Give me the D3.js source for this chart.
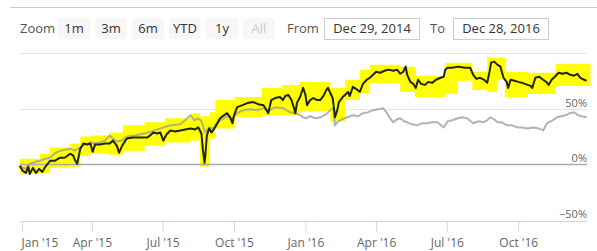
<!DOCTYPE html>
<html><head><meta charset="utf-8">
<script src="https://cdn.jsdelivr.net/npm/d3@7"></script>
<style>html,body{margin:0;padding:0;background:#fff;} svg{display:block;font-family:"Open Sans",sans-serif;}</style>
</head><body>
<svg id="c" width="597" height="251"></svg>
<script>
// ---------- data ----------
const zoomButtons = ["1m", "3m", "6m", "YTD", "1y", "All"];
const disabledButton = "All";
const rangeFrom = "Dec 29, 2014";
const rangeTo = "Dec 28, 2016";
const yTickValues = [-50, 0, 50, 100];
const yTickLabels = ["−50%", "0%", "50%", ""];
const xTickDates = ["2015-01-01", "2015-04-01", "2015-07-01", "2015-10-01", "2016-01-01", "2016-04-01", "2016-07-01", "2016-10-01"];
const xTickLabels = ["Jan '15", "Apr '15", "Jul '15", "Oct '15", "Jan '16", "Apr '16", "Jul '16", "Oct '16"];

// main series (percent change)
const mainSeries = [
["2014-12-29",-0.9],["2015-01-02",-5.5],["2015-01-06",-7.3],["2015-01-09",-1.8],["2015-01-11",-8.2],
["2015-01-15",-2.7],["2015-01-19",-7.3],["2015-01-23",-3.6],["2015-01-27",-6.4],["2015-01-31",-1.8],
["2015-02-03",0.9],["2015-02-06",3.6],["2015-02-12",3.6],["2015-02-19",6.4],["2015-02-25",6.4],
["2015-03-04",10],["2015-03-08",8.2],["2015-03-10",4.5],["2015-03-13",0.9],["2015-03-17",14.5],
["2015-03-21",19.1],["2015-03-26",18.2],["2015-03-30",19.1],["2015-04-02",11.8],["2015-04-05",18.2],
["2015-04-11",18.2],["2015-04-18",19.1],["2015-04-24",19.1],["2015-04-28",21.8],["2015-05-03",17.3],
["2015-05-06",10.9],["2015-05-10",17.3],["2015-05-16",23.6],["2015-05-24",24.5],["2015-06-02",24.5],
["2015-06-11",24.5],["2015-06-15",26.4],["2015-06-19",29.1],["2015-06-24",28.2],["2015-06-28",29.1],
["2015-07-02",21.8],["2015-07-06",27.3],["2015-07-11",30.9],["2015-07-17",30],["2015-07-24",30.9],
["2015-07-30",31.8],["2015-08-06",32.7],["2015-08-12",31.8],["2015-08-16",33.6],["2015-08-20",28.2],
["2015-08-22",12.7],["2015-08-24",1.8],["2015-08-25",8.2],["2015-08-27",26.4],["2015-08-30",32.7],
["2015-09-02",29.1],["2015-09-04",30.9],["2015-09-09",36.4],["2015-09-13",41.8],["2015-09-18",44.5],
["2015-09-22",46.4],["2015-09-26",42.7],["2015-09-29",37.3],["2015-10-01",44.5],["2015-10-05",51.8],
["2015-10-12",53.6],["2015-10-18",55.5],["2015-10-26",56.4],["2015-11-01",54.5],["2015-11-08",53.6],
["2015-11-12",49.1],["2015-11-14",46.4],["2015-11-18",58.2],["2015-11-23",60],["2015-11-29",60.9],
["2015-12-03",58.2],["2015-12-06",61.8],["2015-12-10",62.7],["2015-12-14",58.2],["2015-12-18",49.1],
["2015-12-19",46.4],["2015-12-21",55.5],["2015-12-25",60.9],["2015-12-29",69.1],["2016-01-01",62.7],
["2016-01-03",53.6],["2016-01-07",58.2],["2016-01-11",60],["2016-01-16",58.2],["2016-01-20",58.2],
["2016-01-24",61.8],["2016-01-28",67.3],["2016-01-30",69.1],["2016-02-02",64.5],["2016-02-05",60],
["2016-02-07",49.1],["2016-02-08",42.7],["2016-02-11",49.1],["2016-02-13",56.4],["2016-02-18",60.9],
["2016-02-25",65.5],["2016-02-27",61.8],["2016-03-02",70],["2016-03-08",67.3],["2016-03-11",65.5],
["2016-03-15",72.7],["2016-03-20",76.4],["2016-03-24",78.2],["2016-03-28",80.9],["2016-04-01",83.6],
["2016-04-06",82.7],["2016-04-12",84.5],["2016-04-17",85.5],["2016-04-23",84.5],["2016-04-28",85.5],
["2016-05-02",81.8],["2016-05-06",83.6],["2016-05-09",88.2],["2016-05-11",80.9],["2016-05-15",74.5],
["2016-05-19",72.7],["2016-05-22",69.1],["2016-05-25",76.4],["2016-05-29",72.7],["2016-06-03",71.8],
["2016-06-07",74.5],["2016-06-12",73.6],["2016-06-17",76.4],["2016-06-23",78.2],["2016-06-27",79.1],
["2016-06-29",85.5],["2016-07-02",87.3],["2016-07-08",87.3],["2016-07-16",88.2],["2016-07-24",87.3],
["2016-07-31",87.3],["2016-08-04",80.9],["2016-08-08",77.3],["2016-08-13",78.2],["2016-08-18",76.4],
["2016-08-22",73.6],["2016-08-25",83.6],["2016-08-27",91.8],["2016-08-31",92.7],["2016-09-04",90],
["2016-09-08",88.2],["2016-09-12",78.2],["2016-09-16",74.5],["2016-09-18",69.1],["2016-09-21",76.4],
["2016-09-26",75.5],["2016-10-01",74.5],["2016-10-06",73.6],["2016-10-13",71.8],["2016-10-17",70.9],
["2016-10-19",69.1],["2016-10-23",78.2],["2016-10-28",79.1],["2016-11-02",76.4],["2016-11-06",74.5],
["2016-11-09",71.8],["2016-11-13",76.4],["2016-11-17",79.1],["2016-11-22",82.7],["2016-11-27",81.8],
["2016-12-02",82.7],["2016-12-07",80.9],["2016-12-12",80],["2016-12-16",81.8],["2016-12-20",78.2],
["2016-12-25",76.4],["2016-12-28",75.5]
];

// comparison series (percent change)
const compareSeries = [
["2014-12-29",-0.9],["2015-01-05",-3.6],["2015-01-11",0.9],["2015-01-18",2.7],["2015-01-24",3.6],
["2015-01-31",5.5],["2015-02-06",6.4],["2015-02-12",10],["2015-02-19",12.7],["2015-02-25",13.6],
["2015-03-04",14.5],["2015-03-10",12.7],["2015-03-17",15.5],["2015-03-23",18.2],["2015-03-30",20],
["2015-04-05",19.1],["2015-04-11",20],["2015-04-18",21.8],["2015-04-24",26.4],["2015-04-28",23.6],
["2015-05-03",20.9],["2015-05-10",21.8],["2015-05-16",25.5],["2015-05-26",26.4],["2015-06-08",28.2],
["2015-06-21",30.9],["2015-07-02",33.6],["2015-07-11",35.5],["2015-07-24",36.4],["2015-07-30",40],
["2015-08-06",44.5],["2015-08-11",40],["2015-08-16",41.8],["2015-08-20",39.1],["2015-08-25",29.1],
["2015-08-30",33.6],["2015-09-04",32.7],["2015-09-09",38.2],["2015-09-13",40],["2015-09-22",43.6],
["2015-09-29",41.8],["2015-10-05",46.4],["2015-10-13",49.1],["2015-10-22",50],["2015-10-31",49.1],
["2015-11-08",50.9],["2015-11-14",48.2],["2015-11-23",51.8],["2015-12-03",50.9],["2015-12-12",47.3],
["2015-12-19",46.4],["2015-12-25",44.5],["2016-01-01",41.8],["2016-01-07",43.6],["2016-01-14",41.8],
["2016-01-20",42.7],["2016-01-28",45.5],["2016-02-02",49.1],["2016-02-06",50.9],["2016-02-08",35.5],
["2016-02-12",39.1],["2016-02-17",40.9],["2016-02-24",42.7],["2016-03-02",44.5],["2016-03-09",43.6],
["2016-03-15",46.4],["2016-03-22",47.3],["2016-03-28",49.1],["2016-04-04",50],["2016-04-10",50.9],
["2016-04-15",46.4],["2016-04-19",41.8],["2016-04-23",38.2],["2016-04-28",40.9],["2016-05-02",41.8],
["2016-05-07",39.1],["2016-05-11",38.2],["2016-05-17",36.4],["2016-05-24",35.5],["2016-05-30",37.3],
["2016-06-06",37.3],["2016-06-12",38.2],["2016-06-19",38.2],["2016-06-27",33.6],["2016-07-02",39.1],
["2016-07-08",40],["2016-07-15",41.8],["2016-07-21",42.7],["2016-07-27",41.8],["2016-08-04",37.3],
["2016-08-11",39.1],["2016-08-17",38.2],["2016-08-22",40],["2016-08-26",42.7],["2016-08-31",40.9],
["2016-09-04",38.2],["2016-09-10",38.2],["2016-09-17",35.5],["2016-09-23",35.5],["2016-09-30",33.6],
["2016-10-06",33.6],["2016-10-13",32.7],["2016-10-21",33.6],["2016-10-27",32.7],["2016-11-02",30.9],
["2016-11-07",37.3],["2016-11-14",40],["2016-11-20",42.7],["2016-11-25",43.6],["2016-12-01",44.5],
["2016-12-06",46.4],["2016-12-12",47.3],["2016-12-17",44.5],["2016-12-22",43.6],["2016-12-28",42.7]
];

// highlight band: [date, low, high]
const bandSeries = [
["2014-12-29",-8.2,5.5],["2015-01-24",-7.3,10],["2015-02-06",-2.7,15.5],["2015-03-04",-1.8,19.1],
["2015-03-17",8.2,25.5],["2015-03-30",10,26.4],["2015-04-24",9.1,29.1],["2015-05-11",12.7,35.5],
["2015-06-08",17.3,38.2],["2015-07-04",20,41.8],["2015-08-06",21.8,46.4],["2015-08-18",-1.8,43.6],
["2015-08-31",23.6,47.3],["2015-09-07",32.7,58.2],["2015-10-02",42.7,60.9],["2015-11-06",44.5,69.1],
["2015-12-02",44.5,71.8],["2015-12-25",48,74.5],["2016-02-02",39.1,69.1],["2016-02-21",58.2,76.4],
["2016-03-11",64.5,85.5],["2016-03-24",73.6,90],["2016-05-02",65.5,88.2],["2016-05-21",60.9,80],
["2016-06-29",63.6,91.8],["2016-07-15",75.5,91.8],["2016-08-03",67.3,83.6],["2016-08-22",65.5,96.4],
["2016-09-04",76.4,96.4],["2016-09-14",60.9,83.6],["2016-10-13",63.6,82.7],["2016-11-18",70.9,90.9],
["2017-01-02",70.9,90.9]
];

// ---------- drawing ----------
const parse = d3.utcParse("%Y-%m-%d");
const svg = d3.select("#c");

const x = d3.scaleUtc().domain([parse("2014-12-29"), parse("2016-12-28")]).range([19.7, 586.6]);
const y = d3.scaleLinear().domain([-50, 100]).range([220.5, 53.5]);
const plotLeft = 20, plotRight = 587;

// top separator
svg.append("line").attr("x1", 10).attr("x2", 597).attr("y1", 7.5).attr("y2", 7.5)
  .attr("stroke", "#cccccc").attr("stroke-width", 1);

// range selector
svg.append("text").attr("x", 20).attr("y", 33).attr("font-size", 13).attr("fill", "#555").text("Zoom");
const btn = svg.append("g").selectAll("g").data(zoomButtons).join("g")
  .attr("transform", (d, i) => `translate(${58 + i * 37},18)`);
btn.append("rect").attr("width", 32).attr("height", 21).attr("rx", 2).attr("fill", "#f7f7f7");
btn.append("text").attr("x", 16).attr("y", 15).attr("text-anchor", "middle").attr("font-size", 13)
  .attr("fill", d => d === disabledButton ? "#cccccc" : "#333333").text(d => d);

svg.append("text").attr("x", 287).attr("y", 33).attr("font-size", 13).attr("fill", "#555").text("From");
svg.append("rect").attr("x", 324.5).attr("y", 18.5).attr("width", 95).attr("height", 21)
  .attr("fill", "#fff").attr("stroke", "#cccccc");
svg.append("text").attr("x", 372).attr("y", 33).attr("text-anchor", "middle").attr("font-size", 13)
  .attr("fill", "#333").text(rangeFrom);
svg.append("text").attr("x", 430).attr("y", 33).attr("font-size", 13).attr("fill", "#555").text("To");
svg.append("rect").attr("x", 453.5).attr("y", 18.5).attr("width", 95).attr("height", 21)
  .attr("fill", "#fff").attr("stroke", "#cccccc");
svg.append("text").attr("x", 501).attr("y", 33).attr("text-anchor", "middle").attr("font-size", 13)
  .attr("fill", "#333").text(rangeTo);

// grid lines
const snap = v => Math.round(v - 0.5) + 0.5;
svg.append("g").selectAll("line").data(yTickValues.filter(v => v !== -50 && v !== 0)).join("line")
  .attr("x1", plotLeft).attr("x2", plotRight)
  .attr("y1", d => snap(y(d))).attr("y2", d => snap(y(d)))
  .attr("stroke", "#e6e6e6").attr("stroke-width", 1);

// x axis
const xAxis = d3.axisBottom(x)
  .tickValues(xTickDates.map(parse))
  .tickFormat((d, i) => xTickLabels[i])
  .tickSizeInner(10).tickSizeOuter(0).tickPadding(7);
const gx = svg.append("g").attr("transform", "translate(0,221.5)").call(xAxis);
gx.select(".domain").attr("stroke", "#ccd6eb").attr("d", `M${plotLeft},0H${plotRight}`);
gx.selectAll(".tick line").attr("stroke", "#ccd6eb");
gx.selectAll(".tick text").attr("font-size", 12).attr("fill", "#666666")
  .attr("font-family", '"Open Sans",sans-serif');
// first label is justified to start at its tick (kept inside the chart)
gx.selectAll(".tick text").filter((d, i) => i === 0).attr("text-anchor", "start").attr("x", -1);

// band
const area = d3.area()
  .x(d => x(parse(d[0])))
  .y0(d => y(d[1]))
  .y1(d => y(d[2]))
  .curve(d3.curveStepAfter);
svg.append("path").datum(bandSeries).attr("d", area).attr("fill", "#ffff00");

// zero line
svg.append("line").attr("x1", plotLeft).attr("x2", plotRight)
  .attr("y1", snap(y(0))).attr("y2", snap(y(0)))
  .attr("stroke", "#aaaaaa").attr("stroke-width", 1.6);

// y labels
svg.append("g").selectAll("text").data(yTickValues.map((v, i) => [v, yTickLabels[i]]).filter(d => d[1])).join("text")
  .attr("x", 587).attr("y", d => y(d[0]) - 2.5).attr("text-anchor", "end")
  .attr("font-size", 11).attr("fill", "#666666").text(d => d[1]);

const line = d3.line().x(d => x(parse(d[0]))).y(d => y(d[1]));
svg.append("path").datum(compareSeries).attr("d", line).attr("fill", "none")
  .attr("stroke", "#999999").attr("stroke-opacity", 0.75).attr("stroke-width", 2).attr("stroke-linejoin", "round");
svg.append("path").datum(mainSeries).attr("d", line).attr("fill", "none")
  .attr("stroke", "#222222").attr("stroke-width", 2).attr("stroke-linejoin", "round");
</script>
</body></html>
